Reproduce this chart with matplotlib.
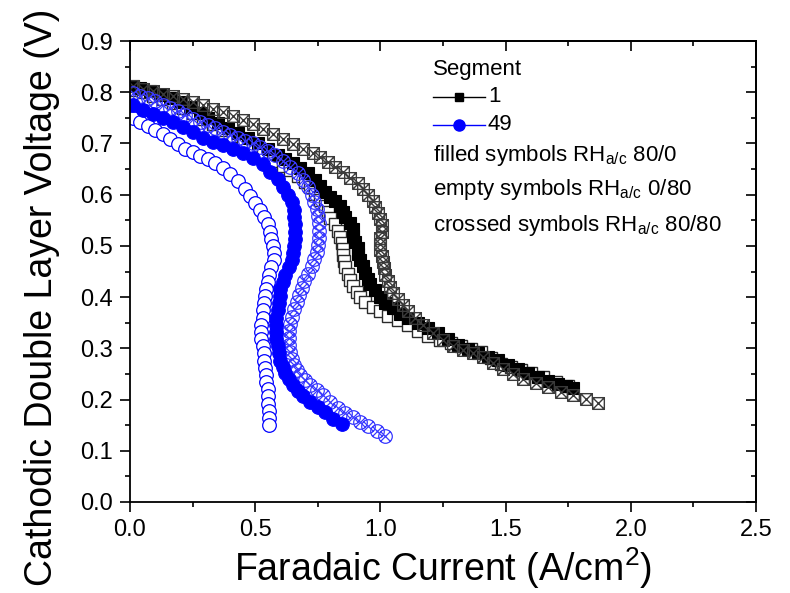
import matplotlib
matplotlib.use("Agg")
import matplotlib.pyplot as plt
from matplotlib.path import Path
from matplotlib.lines import Line2D
from matplotlib.ticker import MultipleLocator

plt.rcParams['font.family'] = ['Liberation Sans', 'DejaVu Sans']
plt.rcParams['mathtext.default'] = 'regular'

# ---------------- data ----------------
s1_filled_x = [0.01,0.04,0.08,0.12,0.16,0.20,0.24,0.28,0.31,0.35,0.39,0.43,0.47,0.51,0.55,0.59,0.62,0.65,0.68,0.71,
               0.74,0.76,0.78,0.80,0.82,0.84,0.85,0.86,0.88,0.89,0.89,0.90,0.91,0.91,0.92,0.93,0.94,0.95,0.96,0.98,
               1.00,1.02,1.05,1.08,1.11,1.15,1.19,1.23,1.27,1.31,1.35,1.39,1.43,1.47,1.51,1.55,1.59,1.63,1.67,1.71,1.74,1.77]
s1_filled_y = [0.812,0.808,0.802,0.795,0.788,0.780,0.771,0.760,0.750,0.740,0.730,0.720,0.710,0.700,0.690,0.678,0.670,0.662,0.652,0.642,
               0.628,0.616,0.605,0.596,0.588,0.578,0.566,0.556,0.545,0.532,0.520,0.508,0.496,0.484,0.472,0.460,0.448,0.436,0.425,0.413,
               0.400,0.388,0.378,0.368,0.359,0.350,0.340,0.330,0.318,0.307,0.298,0.290,0.283,0.277,0.268,0.259,0.251,0.244,0.237,0.230,0.226,0.222]

s1_empty_x = [0.01,0.05,0.09,0.13,0.17,0.21,0.25,0.29,0.33,0.37,0.41,0.45,0.49,0.53,0.57,0.61,0.64,0.67,0.70,0.72,
              0.74,0.76,0.78,0.79,0.80,0.82,0.83,0.84,0.845,0.85,0.85,0.855,0.86,0.87,0.88,0.89,0.905,0.92,0.94,0.97,
              1.00,1.03,1.07,1.11,1.15,1.19,1.24,1.28,1.32,1.36,1.40,1.44,1.48,1.52,1.56,1.60,1.65,1.70,1.75]
s1_empty_y = [0.805,0.800,0.793,0.786,0.778,0.769,0.759,0.748,0.737,0.726,0.715,0.703,0.691,0.679,0.666,0.656,0.648,0.637,0.625,0.614,
              0.602,0.590,0.578,0.566,0.554,0.542,0.530,0.518,0.506,0.494,0.482,0.470,0.458,0.446,0.434,0.422,0.410,0.400,0.390,0.380,
              0.372,0.364,0.356,0.346,0.334,0.324,0.316,0.310,0.304,0.298,0.292,0.282,0.270,0.263,0.258,0.252,0.244,0.235,0.227]

s1_cross_x = [0.01,0.05,0.09,0.13,0.17,0.21,0.25,0.29,0.33,0.37,0.41,0.45,0.49,0.53,0.57,0.61,0.65,0.69,0.73,0.76,
              0.79,0.82,0.85,0.88,0.91,0.93,0.95,0.97,0.98,0.99,1.00,1.005,1.005,1.00,1.00,1.00,1.005,1.01,1.015,1.02,
              1.03,1.04,1.05,1.07,1.09,1.11,1.14,1.17,1.21,1.25,1.29,1.33,1.37,1.41,1.45,1.49,1.53,1.57,1.62,1.67,
              1.72,1.77,1.82,1.87]
s1_cross_y = [0.812,0.807,0.802,0.797,0.792,0.787,0.781,0.775,0.768,0.761,0.753,0.745,0.737,0.728,0.718,0.708,0.698,0.690,0.682,0.674,
              0.664,0.654,0.644,0.633,0.622,0.612,0.600,0.588,0.576,0.564,0.552,0.540,0.528,0.516,0.504,0.492,0.480,0.468,0.456,0.444,
              0.432,0.420,0.408,0.396,0.384,0.372,0.360,0.346,0.330,0.316,0.305,0.296,0.290,0.284,0.272,0.260,0.250,0.241,0.232,0.224,
              0.215,0.208,0.201,0.194]

s49_filled_x = [0.01,0.05,0.09,0.13,0.17,0.21,0.25,0.29,0.33,0.37,0.41,0.45,0.49,0.53,0.56,0.59,0.61,0.63,0.645,0.655,
                0.655,0.66,0.66,0.66,0.655,0.65,0.645,0.635,0.62,0.61,0.60,0.60,0.595,0.59,0.585,0.585,0.585,0.585,0.59,0.595,
                0.60,0.61,0.62,0.635,0.65,0.67,0.69,0.72,0.75,0.78,0.81,0.845]
s49_filled_y = [0.775,0.765,0.757,0.750,0.742,0.732,0.722,0.710,0.703,0.697,0.690,0.682,0.672,0.660,0.645,0.630,0.615,0.600,0.585,0.570,
                0.556,0.542,0.528,0.514,0.500,0.486,0.472,0.458,0.444,0.430,0.416,0.402,0.388,0.374,0.360,0.346,0.332,0.318,0.304,0.290,
                0.276,0.264,0.252,0.240,0.228,0.217,0.207,0.196,0.186,0.175,0.163,0.152]

s49_empty_x = [0.01,0.04,0.07,0.10,0.13,0.16,0.19,0.22,0.25,0.28,0.31,0.34,0.37,0.40,0.43,0.46,0.48,0.50,0.52,0.535,
               0.55,0.56,0.565,0.57,0.575,0.575,0.565,0.555,0.55,0.545,0.54,0.535,0.53,0.53,0.525,0.525,0.525,0.53,0.535,0.535,
               0.54,0.545,0.545,0.55,0.55,0.55,0.555,0.555,0.555]
s49_empty_y = [0.750,0.742,0.735,0.727,0.718,0.708,0.698,0.690,0.683,0.676,0.670,0.662,0.652,0.640,0.627,0.612,0.598,0.584,0.570,0.556,
               0.542,0.528,0.514,0.500,0.486,0.472,0.458,0.444,0.430,0.416,0.402,0.388,0.374,0.360,0.346,0.332,0.318,0.304,0.290,0.276,
               0.262,0.248,0.234,0.220,0.206,0.192,0.178,0.164,0.150]

s49_cross_x = [0.01,0.04,0.07,0.10,0.13,0.16,0.19,0.22,0.25,0.28,0.31,0.34,0.37,0.40,0.43,0.46,0.49,0.52,0.55,0.58,
               0.61,0.64,0.67,0.69,0.71,0.725,0.735,0.745,0.75,0.755,0.755,0.755,0.75,0.745,0.735,0.725,0.71,0.695,0.685,0.675,
               0.665,0.655,0.645,0.64,0.635,0.635,0.635,0.64,0.645,0.655,0.665,0.68,0.70,0.72,0.745,0.77,0.80,0.83,0.86,0.89,
               0.92,0.95,0.985,1.02]
s49_cross_y = [0.798,0.793,0.788,0.782,0.776,0.770,0.763,0.756,0.748,0.742,0.736,0.730,0.723,0.716,0.710,0.704,0.700,0.694,0.686,0.677,
               0.666,0.654,0.642,0.628,0.614,0.600,0.586,0.572,0.558,0.544,0.530,0.516,0.502,0.488,0.474,0.460,0.446,0.432,0.418,0.404,
               0.390,0.376,0.362,0.348,0.334,0.320,0.306,0.292,0.280,0.268,0.258,0.248,0.238,0.228,0.218,0.208,0.196,0.184,0.174,0.165,
               0.157,0.149,0.139,0.129]

segments = ["1", "49"]
x_ticks = [0.0, 0.5, 1.0, 1.5, 2.0, 2.5]
y_ticks = [0.0, 0.1, 0.2, 0.3, 0.4, 0.5, 0.6, 0.7, 0.8, 0.9]
notes = ["filled symbols RH$_{a/c}$ 80/0",
         "empty symbols RH$_{a/c}$ 0/80",
         "crossed symbols RH$_{a/c}$ 80/80"]

# ---------------- markers ----------------
M, L = Path.MOVETO, Path.LINETO
sq_x = Path([(-1, -1), (1, -1), (1, 1), (-1, 1), (-1, -1),
             (-1, -1), (1, 1), (-1, 1), (1, -1)],
            [M, L, L, L, L, M, L, M, L])
d = 0.7071
circ_x = Path.make_compound_path(
    Path.unit_circle(),
    Path([(-d, -d), (d, d)], [M, L]),
    Path([(-d, d), (d, -d)], [M, L]))

BLUE = '#0000FF'

fig = plt.figure(figsize=(7.9, 5.93), dpi=100)
ax = fig.add_axes([130/790, 1-502/593, 626/790, 461/593])

sq = 8.4
ci = 9.8
ax.plot(s1_empty_x, s1_empty_y, ls='none', marker='s', ms=sq, mfc='white', mec='#2a2a2a', mew=1.0)
ax.plot(s1_filled_x, s1_filled_y, ls='none', marker='s', ms=sq, mfc='black', mec='black', mew=0.8)
ax.plot(s1_cross_x, s1_cross_y, ls='none', marker=sq_x, ms=sq, mfc='none', mec='#3a3a3a', mew=1.0)
ax.plot(s49_empty_x, s49_empty_y, ls='none', marker='o', ms=ci, mfc='white', mec=BLUE, mew=0.9)
ax.plot(s49_cross_x, s49_cross_y, ls='none', marker=circ_x, ms=ci, mfc='none', mec='#3a3aff', mew=0.9)
ax.plot(s49_filled_x, s49_filled_y, ls='none', marker='o', ms=ci, mfc=BLUE, mec=BLUE, mew=0.8)

ax.set_xlim(0, 2.5)
ax.set_ylim(0, 0.9)
ax.set_xticks(x_ticks)
ax.set_yticks(y_ticks)
ax.set_xticklabels([f"{v:.1f}" for v in x_ticks])
ax.set_yticklabels([f"{v:.1f}" for v in y_ticks])
ax.xaxis.set_minor_locator(MultipleLocator(0.25))
ax.yaxis.set_minor_locator(MultipleLocator(0.05))
ax.tick_params(which='major', direction='out', length=7, width=1.2, labelsize=17, pad=5)
ax.tick_params(which='minor', direction='out', length=3.5, width=1.2)
for s in ax.spines.values():
    s.set_linewidth(1.3)

# mirrored inward ticks on top and right
top = ax.secondary_xaxis('top')
top.set_xticks(x_ticks)
top.xaxis.set_minor_locator(MultipleLocator(0.25))
top.tick_params(which='major', direction='in', length=7, width=1.2, labeltop=False)
top.tick_params(which='minor', direction='in', length=3.5, width=1.2)
right = ax.secondary_yaxis('right')
right.set_yticks(y_ticks)
right.yaxis.set_minor_locator(MultipleLocator(0.05))
right.tick_params(which='major', direction='in', length=7, width=1.2, labelright=False)
right.tick_params(which='minor', direction='in', length=3.5, width=1.2)
top.spines['top'].set_linewidth(1.3)
right.spines['right'].set_linewidth(1.3)

ax.set_xlabel("Faradaic Current (A/cm$^2$)", fontsize=27)
ax.set_ylabel("Cathodic Double Layer Voltage (V)", fontsize=27)
ax.xaxis.set_label_coords(0.5, -0.095)
ax.yaxis.set_label_coords(-0.112, 0.445)

# ---------------- legend (drawn manually) ----------------
def fx(px):
    return px / 790
def fy(py):
    return 1 - py / 593

LEG_FS = 16
fig.text(fx(433), fy(69), "Segment", fontsize=LEG_FS, va='center', ha='left')
leg_styles = [dict(color='black', marker='s', ms=6.0),
              dict(color=BLUE, marker='o', ms=8.0)]
leg_rows = [97, 125]
for lab, st, py in zip(segments, leg_styles, leg_rows):
    fig.add_artist(Line2D([fx(433), fx(485)], [fy(py), fy(py)], color=st['color'], lw=1.0))
    fig.add_artist(Line2D([fx(459)], [fy(py)], ls='none', marker=st['marker'], ms=st['ms'],
                          mfc=st['color'], mec=st['color']))
    fig.text(fx(488), fy(py), lab, fontsize=LEG_FS, va='center', ha='left')
for txt, py in zip(notes, [155, 190, 225]):
    fig.text(fx(433), fy(py), txt, fontsize=LEG_FS, va='center', ha='left')

fig.savefig("out.png", dpi=100)
